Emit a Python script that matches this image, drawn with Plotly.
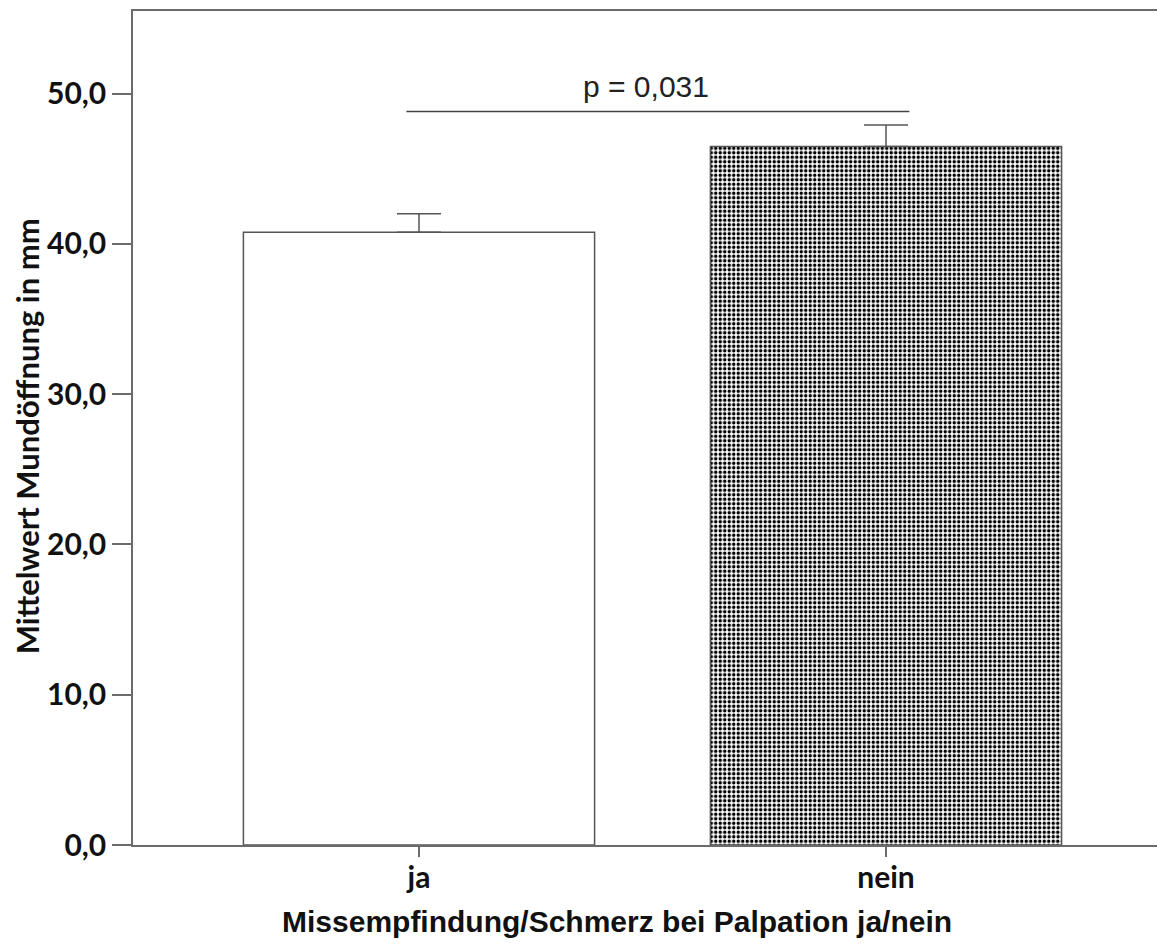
import plotly.graph_objects as go

categories = ["ja", "nein"]
means = [40.77, 46.49]
errors = [1.23, 1.43]
y_tickvals = [0, 10, 20, 30, 40, 50]
y_ticktext = ["0,0", "10,0", "20,0", "30,0", "40,0", "50,0"]
p_label = "p = 0,031"
sig_level = 48.82

axis_col = "#6b6b6b"
tick_font = dict(family="Lato", size=30, color="#111111")

# page body has an 8px margin; figure is sized to fit the 1165x949 window
W, H = 1157, 941
L, T, B = 125, 3, 104
plot_w = W - L

fig = go.Figure()
fig.add_trace(go.Bar(
    x=[0, 1],
    y=means,
    width=0.752,
    marker=dict(
        color=["white", "black"],
        line=dict(color="#555555", width=1.5),
        pattern=dict(shape=["", "."], fgcolor="white", bgcolor="black",
                     size=4.5, solidity=0.45, fillmode="replace"),
    ),
    error_y=dict(type="data", symmetric=False, array=errors,
                 arrayminus=[0, 0], color="#555555", thickness=1.5, width=22),
    showlegend=False,
    hoverinfo="skip",
))

fig.add_shape(type="line", xref="x", yref="y",
              x0=-0.027, x1=1.05, y0=sig_level, y1=sig_level,
              line=dict(color="#444444", width=1.5))

fig.add_annotation(x=0.485, y=sig_level, xref="x", yref="y",
                   text=p_label, showarrow=False, yanchor="bottom", yshift=6,
                   font=dict(family="Liberation Sans", size=30, color="#222222"))

fig.add_annotation(x=(617 - 8 - L) / plot_w, y=-0.092, xref="paper", yref="paper",
                   text="<b>Missempfindung/Schmerz bei Palpation ja/nein</b>",
                   showarrow=False, xanchor="center", yanchor="middle",
                   font=dict(family="Liberation Sans", size=30, color="#111111"))

fig.add_annotation(x=(27 - 8 - L) / plot_w, y=0.49, xref="paper", yref="paper",
                   text="<b>Mittelwert Mundöffnung in mm</b>", textangle=-90,
                   showarrow=False, xanchor="center", yanchor="middle",
                   font=dict(family="Lato", size=31, color="#111111"))

fig.update_layout(
    width=W, height=H,
    margin=dict(l=L, r=0, t=T, b=B),
    paper_bgcolor="white", plot_bgcolor="white",
    xaxis=dict(
        range=[-286 / 467, (1165 - 419) / 467],
        tickvals=[0, 1], ticktext=[f"<b>{c}</b>" for c in categories],
        tickfont=tick_font, ticks="outside", ticklen=10, tickwidth=1.5,
        ticklabelstandoff=-5,
        tickcolor=axis_col, showline=True, linecolor=axis_col, linewidth=1.5,
        mirror=True, showgrid=False, zeroline=False,
    ),
    yaxis=dict(
        range=[0, 55.5],
        tickvals=y_tickvals, ticktext=[f"<b>{t}</b>" for t in y_ticktext],
        tickfont=tick_font, ticks="outside", ticklen=19, tickwidth=1.5,
        tickcolor=axis_col, showline=True, linecolor=axis_col, linewidth=1.5,
        showgrid=False, zeroline=False,
    ),
)

fig.write_html("out.html")
